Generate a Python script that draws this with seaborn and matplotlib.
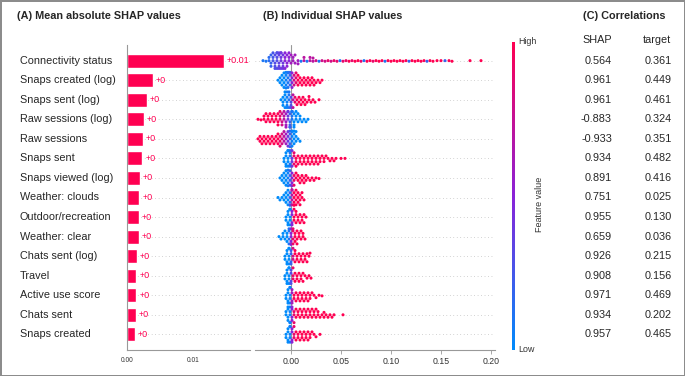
import warnings
import numpy as np
import pandas as pd
import seaborn as sns
import matplotlib.pyplot as plt
from matplotlib import transforms
from matplotlib.colors import LinearSegmentedColormap, Normalize
from matplotlib.cm import ScalarMappable

warnings.filterwarnings("ignore")

# --- data ---
features = ["Connectivity status", "Snaps created (log)", "Snaps sent (log)",
            "Raw sessions (log)", "Raw sessions", "Snaps sent",
            "Snaps viewed (log)", "Weather: clouds", "Outdoor/recreation",
            "Weather: clear", "Chats sent (log)", "Travel", "Active use score",
            "Chats sent", "Snaps created"]
mean_abs_shap = [0.0146, 0.0039, 0.0030, 0.0025, 0.0024, 0.0023, 0.0019, 0.00185,
                 0.00177, 0.00175, 0.0015, 0.00143, 0.0014, 0.00133, 0.0012]
corr_shap = [0.564, 0.961, 0.961, -0.883, -0.933, 0.934, 0.891, 0.751, 0.955,
             0.659, 0.926, 0.908, 0.971, 0.934, 0.957]
corr_target = [0.361, 0.449, 0.461, 0.324, 0.351, 0.482, 0.416, 0.025, 0.130,
               0.036, 0.215, 0.156, 0.469, 0.202, 0.465]

# beeswarm, estimated as bins: (shap value, number of dots, feature value 0=low..1=high)
sw_connectivity = [(-0.028, 1, 0.1), (-0.025, 1, 0.1), (-0.022, 2, 0.15), (-0.020, 3, 0.2),
                   (-0.018, 3, 0.25), (-0.016, 4, 0.3), (-0.014, 5, 0.3), (-0.012, 5, 0.35),
                   (-0.010, 5, 0.4), (-0.008, 4, 0.4), (-0.006, 4, 0.5), (-0.004, 3, 0.5),
                   (-0.002, 3, 0.5), (0.000, 2, 0.6), (0.002, 2, 0.6),
                   (0.004, 2, 0.6), (0.007, 2, 0.6), (0.010, 1, 0.1), (0.013, 2, 0.7),
                   (0.016, 1, 0.1), (0.019, 2, 0.7), (0.022, 2, 0.7), (0.025, 1, 0.8),
                   (0.028, 1, 0.1), (0.031, 1, 0.8), (0.034, 1, 0.8), (0.037, 1, 0.9),
                   (0.040, 1, 0.8), (0.043, 1, 0.9), (0.046, 1, 0.9), (0.049, 1, 0.1),
                   (0.052, 1, 0.9), (0.055, 1, 0.9), (0.058, 1, 1.0), (0.061, 1, 0.9),
                   (0.064, 1, 1.0), (0.067, 1, 1.0), (0.070, 1, 0.9), (0.073, 1, 0.1),
                   (0.076, 1, 1.0), (0.079, 1, 1.0), (0.082, 1, 0.9), (0.085, 1, 1.0),
                   (0.088, 1, 1.0), (0.091, 1, 1.0), (0.094, 1, 0.1), (0.097, 1, 1.0),
                   (0.100, 1, 1.0), (0.103, 1, 1.0), (0.106, 1, 1.0), (0.109, 1, 1.0),
                   (0.112, 1, 1.0), (0.115, 1, 1.0), (0.118, 1, 0.2), (0.121, 1, 1.0),
                   (0.124, 1, 1.0), (0.127, 1, 1.0), (0.130, 1, 1.0), (0.133, 1, 1.0),
                   (0.136, 1, 0.2), (0.139, 1, 1.0), (0.142, 1, 1.0), (0.146, 1, 1.0),
                   (0.150, 1, 1.0), (0.154, 1, 0.2), (0.158, 1, 1.0), (0.161, 1, 1.0),
                   (0.179, 1, 1.0), (0.190, 1, 1.0)]
sw_snaps_created_log = [(-0.013, 1, 0), (-0.011, 2, 0), (-0.009, 3, 0), (-0.007, 4, 0),
                        (-0.005, 5, 0.05), (-0.003, 5, 0.1), (-0.001, 4, 0.2), (0.001, 4, 0.5),
                        (0.003, 3, 0.8), (0.005, 3, 0.9), (0.007, 3, 1), (0.009, 2, 1),
                        (0.011, 2, 1), (0.013, 2, 1), (0.015, 2, 1), (0.017, 2, 1),
                        (0.019, 2, 1), (0.021, 2, 1), (0.023, 2, 1), (0.025, 1, 1),
                        (0.027, 1, 1), (0.029, 1, 1), (0.031, 1, 1)]
sw_snaps_sent_log = [(-0.010, 1, 0), (-0.008, 3, 0), (-0.006, 4, 0), (-0.004, 5, 0.05),
                     (-0.002, 4, 0.1), (0.000, 4, 0.3), (0.002, 3, 0.7), (0.004, 2, 0.9),
                     (0.006, 2, 1), (0.008, 2, 1), (0.010, 2, 1), (0.012, 2, 1),
                     (0.014, 2, 1), (0.016, 1, 1), (0.018, 2, 1), (0.020, 1, 1),
                     (0.022, 1, 1), (0.024, 1, 1), (0.028, 1, 1)]
sw_raw_sessions_log = [(-0.033, 1, 1), (-0.030, 1, 1), (-0.027, 2, 1), (-0.025, 2, 1),
                       (-0.023, 2, 1), (-0.021, 2, 1), (-0.019, 2, 1), (-0.017, 2, 1),
                       (-0.015, 2, 1), (-0.013, 3, 1), (-0.011, 3, 0.9), (-0.009, 3, 0.8),
                       (-0.007, 3, 0.7), (-0.005, 4, 0.6), (-0.003, 4, 0.4), (-0.001, 5, 0.2),
                       (0.001, 5, 0.1), (0.003, 4, 0), (0.005, 3, 0), (0.007, 2, 0),
                       (0.009, 2, 0), (0.011, 1, 0), (0.013, 1, 0), (0.015, 1, 0),
                       (0.017, 1, 0)]
sw_raw_sessions = [(-0.033, 1, 1), (-0.031, 2, 1), (-0.029, 2, 1), (-0.027, 2, 1),
                   (-0.025, 2, 1), (-0.023, 2, 1), (-0.021, 2, 1), (-0.019, 2, 1),
                   (-0.017, 2, 1), (-0.015, 2, 1), (-0.013, 3, 1), (-0.011, 3, 0.9),
                   (-0.009, 3, 0.8), (-0.007, 3, 0.7), (-0.005, 3, 0.6), (-0.003, 4, 0.4),
                   (-0.001, 5, 0.2), (0.001, 5, 0.05), (0.003, 4, 0), (0.005, 3, 0),
                   (0.007, 1, 0), (0.009, 1, 0)]
sw_snaps_sent = [(-0.007, 2, 0), (-0.005, 4, 0), (-0.003, 5, 0), (-0.001, 5, 0.1),
                 (0.001, 4, 0.4), (0.003, 3, 0.9), (0.005, 3, 1), (0.007, 2, 1),
                 (0.009, 2, 1), (0.011, 2, 1), (0.013, 2, 1), (0.015, 2, 1),
                 (0.017, 2, 1), (0.019, 2, 1), (0.021, 2, 1), (0.023, 2, 1),
                 (0.025, 2, 1), (0.027, 2, 1), (0.029, 2, 1), (0.031, 1, 1),
                 (0.033, 2, 1), (0.035, 1, 1), (0.037, 1, 1), (0.039, 1, 1),
                 (0.041, 1, 1), (0.043, 1, 1), (0.045, 1, 1), (0.050, 1, 1), (0.054, 1, 1)]
sw_snaps_viewed_log = [(-0.011, 1, 0), (-0.009, 2, 0), (-0.007, 3, 0), (-0.005, 4, 0),
                       (-0.003, 5, 0.05), (-0.001, 4, 0.2), (0.001, 4, 0.5), (0.003, 3, 0.9),
                       (0.005, 2, 1), (0.007, 2, 1), (0.009, 2, 1), (0.011, 2, 1),
                       (0.013, 2, 1), (0.015, 2, 1), (0.017, 1, 1), (0.019, 1, 1),
                       (0.021, 1, 1), (0.023, 1, 1), (0.025, 1, 1), (0.028, 1, 1)]
sw_weather_clouds = [(-0.013, 1, 0), (-0.011, 1, 0), (-0.009, 1, 0), (-0.007, 2, 0),
                     (-0.005, 3, 0), (-0.003, 4, 0), (-0.001, 4, 0.2), (0.001, 5, 0.7),
                     (0.003, 4, 1), (0.005, 4, 1), (0.007, 3, 1), (0.009, 3, 1),
                     (0.011, 2, 1), (0.013, 1, 1)]
sw_outdoor = [(-0.005, 2, 0), (-0.003, 4, 0), (-0.001, 5, 0), (0.001, 4, 0.5),
              (0.003, 3, 1), (0.005, 3, 1), (0.007, 2, 1), (0.009, 2, 1),
              (0.011, 2, 1), (0.013, 2, 1), (0.015, 1, 1)]
sw_weather_clear = [(-0.012, 1, 0), (-0.010, 1, 0), (-0.008, 2, 0), (-0.006, 2, 0),
                    (-0.004, 3, 0), (-0.002, 4, 0.1), (0.000, 5, 0.5), (0.002, 4, 0.9),
                    (0.004, 3, 1), (0.006, 3, 1), (0.008, 2, 1), (0.010, 2, 1),
                    (0.012, 2, 1), (0.014, 1, 1)]
sw_chats_sent_log = [(-0.006, 2, 0), (-0.004, 4, 0), (-0.002, 5, 0), (0.000, 4, 0.2),
                     (0.002, 3, 0.8), (0.004, 3, 1), (0.006, 2, 1), (0.008, 2, 1),
                     (0.010, 2, 1), (0.012, 2, 1), (0.014, 2, 1), (0.016, 2, 1),
                     (0.018, 1, 1), (0.019, 1, 1)]
sw_travel = [(-0.006, 2, 0), (-0.004, 4, 0), (-0.002, 5, 0), (0.000, 4, 0.3),
             (0.002, 3, 0.9), (0.004, 2, 1), (0.006, 2, 1), (0.008, 2, 1),
             (0.010, 2, 1), (0.012, 2, 1), (0.014, 1, 1), (0.016, 1, 1),
             (0.018, 1, 1), (0.020, 1, 1)]
sw_active_use = [(-0.005, 2, 0), (-0.003, 4, 0), (-0.001, 5, 0.05), (0.001, 4, 0.6),
                 (0.003, 2, 1), (0.005, 2, 1), (0.007, 2, 1), (0.009, 2, 1),
                 (0.011, 2, 1), (0.013, 2, 1), (0.015, 2, 1), (0.017, 2, 1),
                 (0.019, 2, 1), (0.021, 1, 1), (0.023, 1, 1), (0.025, 1, 1),
                 (0.028, 1, 1), (0.031, 1, 1)]
sw_chats_sent = [(-0.005, 2, 0), (-0.003, 4, 0), (-0.001, 5, 0.05), (0.001, 4, 0.5),
                 (0.003, 3, 0.9), (0.005, 2, 1), (0.007, 2, 1), (0.009, 2, 1),
                 (0.011, 2, 1), (0.013, 2, 1), (0.015, 2, 1), (0.017, 2, 1),
                 (0.019, 2, 1), (0.021, 2, 1), (0.023, 2, 1), (0.025, 2, 1),
                 (0.027, 2, 1), (0.029, 1, 1), (0.031, 1, 1), (0.033, 2, 1),
                 (0.035, 1, 1), (0.037, 1, 1), (0.039, 1, 1), (0.041, 1, 1),
                 (0.043, 1, 1), (0.052, 1, 1)]
sw_snaps_created = [(-0.005, 2, 0), (-0.003, 4, 0), (-0.001, 5, 0.05), (0.001, 4, 0.5),
                    (0.003, 3, 0.9), (0.005, 2, 1), (0.007, 2, 1), (0.009, 2, 1),
                    (0.011, 2, 1), (0.013, 2, 1), (0.015, 2, 1), (0.017, 2, 1),
                    (0.019, 2, 1), (0.021, 1, 1), (0.023, 1, 1), (0.025, 1, 1),
                    (0.029, 1, 1)]

swarm_bins = [sw_connectivity, sw_snaps_created_log, sw_snaps_sent_log,
              sw_raw_sessions_log, sw_raw_sessions, sw_snaps_sent, sw_snaps_viewed_log,
              sw_weather_clouds, sw_outdoor, sw_weather_clear, sw_chats_sent_log,
              sw_travel, sw_active_use, sw_chats_sent, sw_snaps_created]

rows = []
for feat, bins in zip(features, swarm_bins):
    for x, n, lev in bins:
        rows += [(feat, x, lev)] * n
df_sw = pd.DataFrame(rows, columns=["feature", "shap", "level"])

RED = "#ff0051"
cmap = LinearSegmentedColormap.from_list("shap_rb", ["#008bfb", "#8a22d8", RED])

# --- figure ---
sns.set_theme(style="white")
plt.rcParams["font.family"] = ["Liberation Sans", "DejaVu Sans"]

W, H = 685, 376
fig = plt.figure(figsize=(W / 100, H / 100), dpi=100, edgecolor="#8c8c8c", linewidth=2)


def box(l, t, r, b):
    # pixel box -> figure fraction
    return [l / W, 1 - b / H, (r - l) / W, (b - t) / H]


ax_a = fig.add_axes(box(127, 45, 250, 350))
ax_b = fig.add_axes(box(255, 45, 495, 350))
ax_cb = fig.add_axes(box(512, 42, 515, 350))
n = len(features)

# (A) bars
sns.barplot(x=mean_abs_shap, y=features, orient="h", color=RED, saturation=1,
            width=0.72, ax=ax_a)
for i in range(n):
    ax_a.axhline(i, color="#aaaaaa", lw=0.5, dashes=(1, 4), zorder=-1)
tr_a = transforms.blended_transform_factory(fig.transFigure, ax_a.transData)
for i, (name, v) in enumerate(zip(features, mean_abs_shap)):
    ax_a.text(v + 0.00045, i, f"+{round(v, 2):g}", color=RED, fontsize=6.5, va="center")
    ax_a.text(20 / W, i, name, transform=tr_a, ha="left", va="center", fontsize=7.8)
ax_a.set_ylim(n - 0.2, -0.8)
ax_a.set_xlim(0, 0.0186)
ax_a.set_yticks([])
ax_a.set_xticks([0, 0.01], ["0.00", "0.01"])
ax_a.tick_params(axis="x", labelsize=4.8, labelcolor="#333333", length=0, pad=5)
ax_a.set_xlabel("")
ax_a.set_ylabel("")
for s in ["top", "right"]:
    ax_a.spines[s].set_visible(False)
for s in ["left", "bottom"]:
    ax_a.spines[s].set_color("#999999")
    ax_a.spines[s].set_linewidth(0.8)

# (B) beeswarm
sns.swarmplot(data=df_sw, x="shap", y="feature", hue="level", order=features,
              palette=cmap, hue_norm=(0, 1), size=2.2, linewidth=0, legend=False,
              orient="h", ax=ax_b, zorder=3)
for i in range(n):
    ax_b.axhline(i, color="#aaaaaa", lw=0.5, dashes=(1, 4), zorder=-1)
ax_b.axvline(0, color="#999999", lw=0.8, zorder=-1)
ax_b.set_ylim(n - 0.2, -0.8)
ax_b.set_xlim(-0.036, 0.204)
ax_b.set_yticks([])
ticks_b = [0, 0.05, 0.10, 0.15, 0.20]
ax_b.set_xticks(ticks_b, [f"{t:.2f}" for t in ticks_b])
ax_b.tick_params(axis="x", labelsize=6.3, labelcolor="#333333", length=3,
                 width=0.6, color="#999999", pad=2, bottom=True)
ax_b.set_xlabel("")
ax_b.set_ylabel("")
for s in ["top", "right", "left"]:
    ax_b.spines[s].set_visible(False)
ax_b.spines["bottom"].set_color("#999999")
ax_b.spines["bottom"].set_linewidth(0.8)

# colour bar
cb = fig.colorbar(ScalarMappable(norm=Normalize(0, 1), cmap=cmap), cax=ax_cb, ticks=[])
cb.outline.set_visible(False)
fig.text(518 / W, 1 - 42 / H, "High", fontsize=6.4, color="#333333", va="center")
fig.text(518 / W, 1 - 350 / H, "Low", fontsize=6.4, color="#333333", va="center")
fig.text(540 / W, 1 - 204 / H, "Feature value", fontsize=6.5, color="#333333",
         rotation=90, ha="center", va="center")

# (C) correlations
tr_c = transforms.blended_transform_factory(fig.transFigure, ax_b.transData)
fig.text(597 / W, 1 - 40 / H, "SHAP", fontsize=7.8, ha="center", va="center")
fig.text(657 / W, 1 - 40 / H, "target", fontsize=7.8, ha="center", va="center")
for i, (a, b) in enumerate(zip(corr_shap, corr_target)):
    ax_b.text(612 / W, i, f"{a:.3f}", transform=tr_c, ha="right", va="center", fontsize=7.8)
    ax_b.text(672 / W, i, f"{b:.3f}", transform=tr_c, ha="right", va="center", fontsize=7.8)

# titles
fig.text(17 / W, 1 - 16 / H, "(A) Mean absolute SHAP values", fontsize=7.8,
         fontweight="bold", va="center")
fig.text(263 / W, 1 - 16 / H, "(B) Individual SHAP values", fontsize=7.8,
         fontweight="bold", va="center")
fig.text(583 / W, 1 - 16 / H, "(C) Correlations", fontsize=7.8,
         fontweight="bold", va="center")

fig.savefig("out.png", dpi=100)
